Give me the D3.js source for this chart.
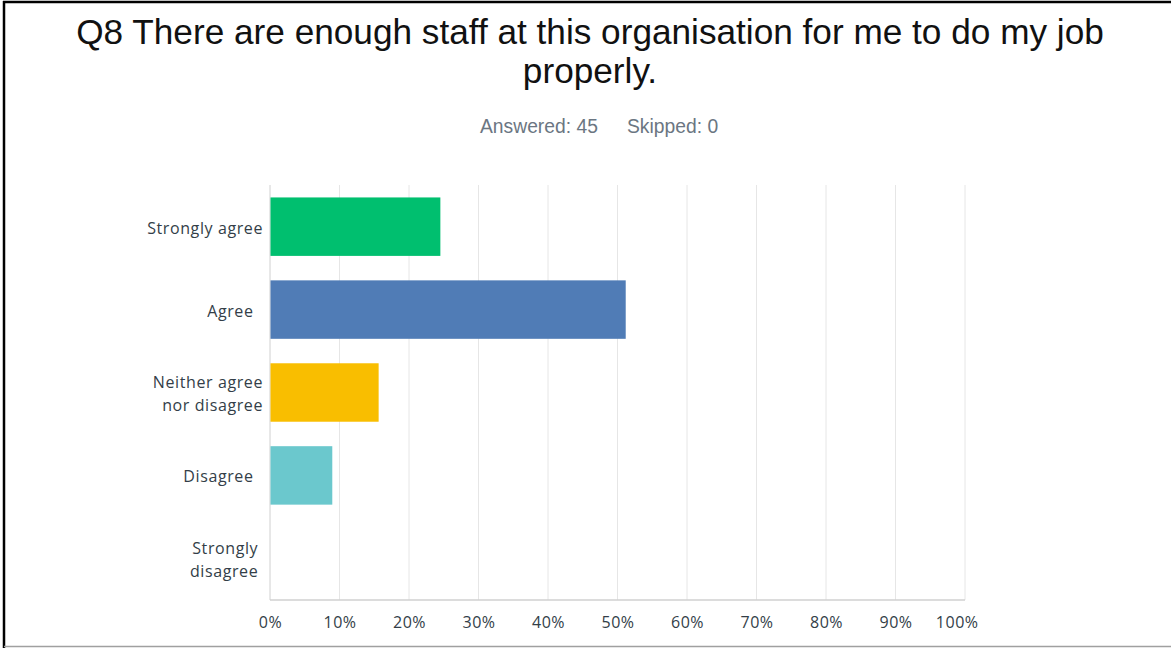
<!DOCTYPE html>
<html>
<head>
<meta charset="utf-8">
<script src="https://cdn.jsdelivr.net/npm/d3@7"></script>
<style>
  html, body { margin: 0; padding: 0; background: #fff; }
  svg { display: block; }
  .cat { white-space: pre; }
</style>
</head>
<body>
<script>
// Survey question Q8: share of respondents per answer choice
const categories = ["Strongly agree", "Agree", "Neither agree nor disagree", "Disagree", "Strongly disagree"];
const categoryLines = [["Strongly agree"], ["Agree\u00a0\u00a0"], ["Neither agree", "nor disagree"], ["Disagree\u00a0\u00a0"], ["Strongly\u00a0", "disagree\u00a0"]];
const percentages = [24.44, 51.11, 15.56, 8.89, 0];
const barColors = ["#00bf6f", "#507cb6", "#f9be00", "#6bc8cd", "#ff8b4f"];
const tickValues = [0, 10, 20, 30, 40, 50, 60, 70, 80, 90, 100];
const titleLines = ["Q8 There are enough staff at this organisation for me to do my job", "properly."];
const answered = 45, skipped = 0;

const W = 1171, H = 648;
const svg = d3.select("body").append("svg").attr("width", W).attr("height", H);

// frame lines
svg.append("rect").attr("x", 0).attr("y", 0).attr("width", W).attr("height", H).attr("fill", "#fff");
svg.append("line").attr("x1", 3).attr("x2", W).attr("y1", 2).attr("y2", 2).attr("stroke", "#000").attr("stroke-width", 2.5);
svg.append("line").attr("x1", 4).attr("x2", 4).attr("y1", 1).attr("y2", H).attr("stroke", "#000").attr("stroke-width", 2.5);
svg.append("line").attr("x1", 4).attr("x2", W).attr("y1", 646.5).attr("y2", 646.5).attr("stroke", "#a0a0a0").attr("stroke-width", 1.5);

// title
svg.append("g").selectAll("text").data(titleLines).join("text")
  .attr("x", 590).attr("y", (d, i) => 44 + i * 39)
  .attr("text-anchor", "middle")
  .attr("font-family", "'Liberation Sans', Arial, sans-serif")
  .attr("font-size", 35.2)
  .attr("fill", "#111")
  .text(d => d);

// respondent counts
const sub = svg.append("text").attr("y", 133)
  .attr("font-family", "'Liberation Sans', Arial, sans-serif")
  .attr("font-size", 19.3).attr("fill", "#6b7682");
sub.append("tspan").attr("x", 480).text(`Answered: ${answered}`);
sub.append("tspan").attr("x", 627).text(`Skipped: ${skipped}`);

// scales
const margin = { left: 270, right: W - 965, top: 185, bottom: H - 600 };
const x = d3.scaleLinear().domain([0, 100]).range([margin.left, W - margin.right]);
const y = d3.scaleBand().domain(categories).range([margin.top, H - margin.bottom]).paddingInner(0.295).paddingOuter(0.15);

// vertical gridlines
svg.append("g").selectAll("line").data(tickValues).join("line")
  .attr("x1", d => x(d)).attr("x2", d => x(d))
  .attr("y1", margin.top).attr("y2", H - margin.bottom)
  .attr("stroke", d => d === 0 ? "#d0d0d0" : "#e6e6e6").attr("stroke-width", 1);

// bottom axis line
svg.append("line").attr("x1", x(0)).attr("x2", x(100))
  .attr("y1", H - margin.bottom).attr("y2", H - margin.bottom)
  .attr("stroke", "#d0d0d0").attr("stroke-width", 1.5);

// bars
svg.append("g").selectAll("rect").data(percentages).join("rect")
  .attr("x", x(0) + 0.5)
  .attr("y", (d, i) => y(categories[i]))
  .attr("width", d => Math.max(0, x(d) - x(0)))
  .attr("height", y.bandwidth())
  .attr("fill", (d, i) => barColors[i]);

// x tick labels (the last one is kept inside the plot edge)
const axis = d3.axisBottom(x).tickValues(tickValues).tickFormat(d => d + "%").tickSize(0).tickPadding(0);
const gx = svg.append("g").attr("transform", `translate(0, ${H - margin.bottom + 16.5})`).call(axis);
gx.select(".domain").remove();
gx.selectAll("text")
  .attr("font-family", "'Open Sans', 'Noto Sans', sans-serif")
  .attr("font-size", 16).attr("letter-spacing", 0.5).attr("fill", "#333e48");
gx.selectAll(".tick").filter(d => d === 100).select("text")
  .attr("text-anchor", "end").attr("x", 13);

// category labels
const lab = svg.append("g").selectAll("text").data(categoryLines).join("text")
  .attr("class", "cat")
  .attr("text-anchor", "end")
  .attr("font-family", "'Open Sans', 'Noto Sans', sans-serif")
  .attr("font-size", 16).attr("letter-spacing", 0.6).attr("fill", "#333e48");
lab.each(function (lines, i) {
  const cy = y(categories[i]) + y.bandwidth() / 2;
  const n = lines.length;
  d3.select(this).selectAll("tspan").data(lines).join("tspan")
    .attr("x", 263)
    .attr("y", (d, j) => cy + (j - (n - 1) / 2) * 23.4 + 7)
    .text(d => d);
});
</script>
</body>
</html>
